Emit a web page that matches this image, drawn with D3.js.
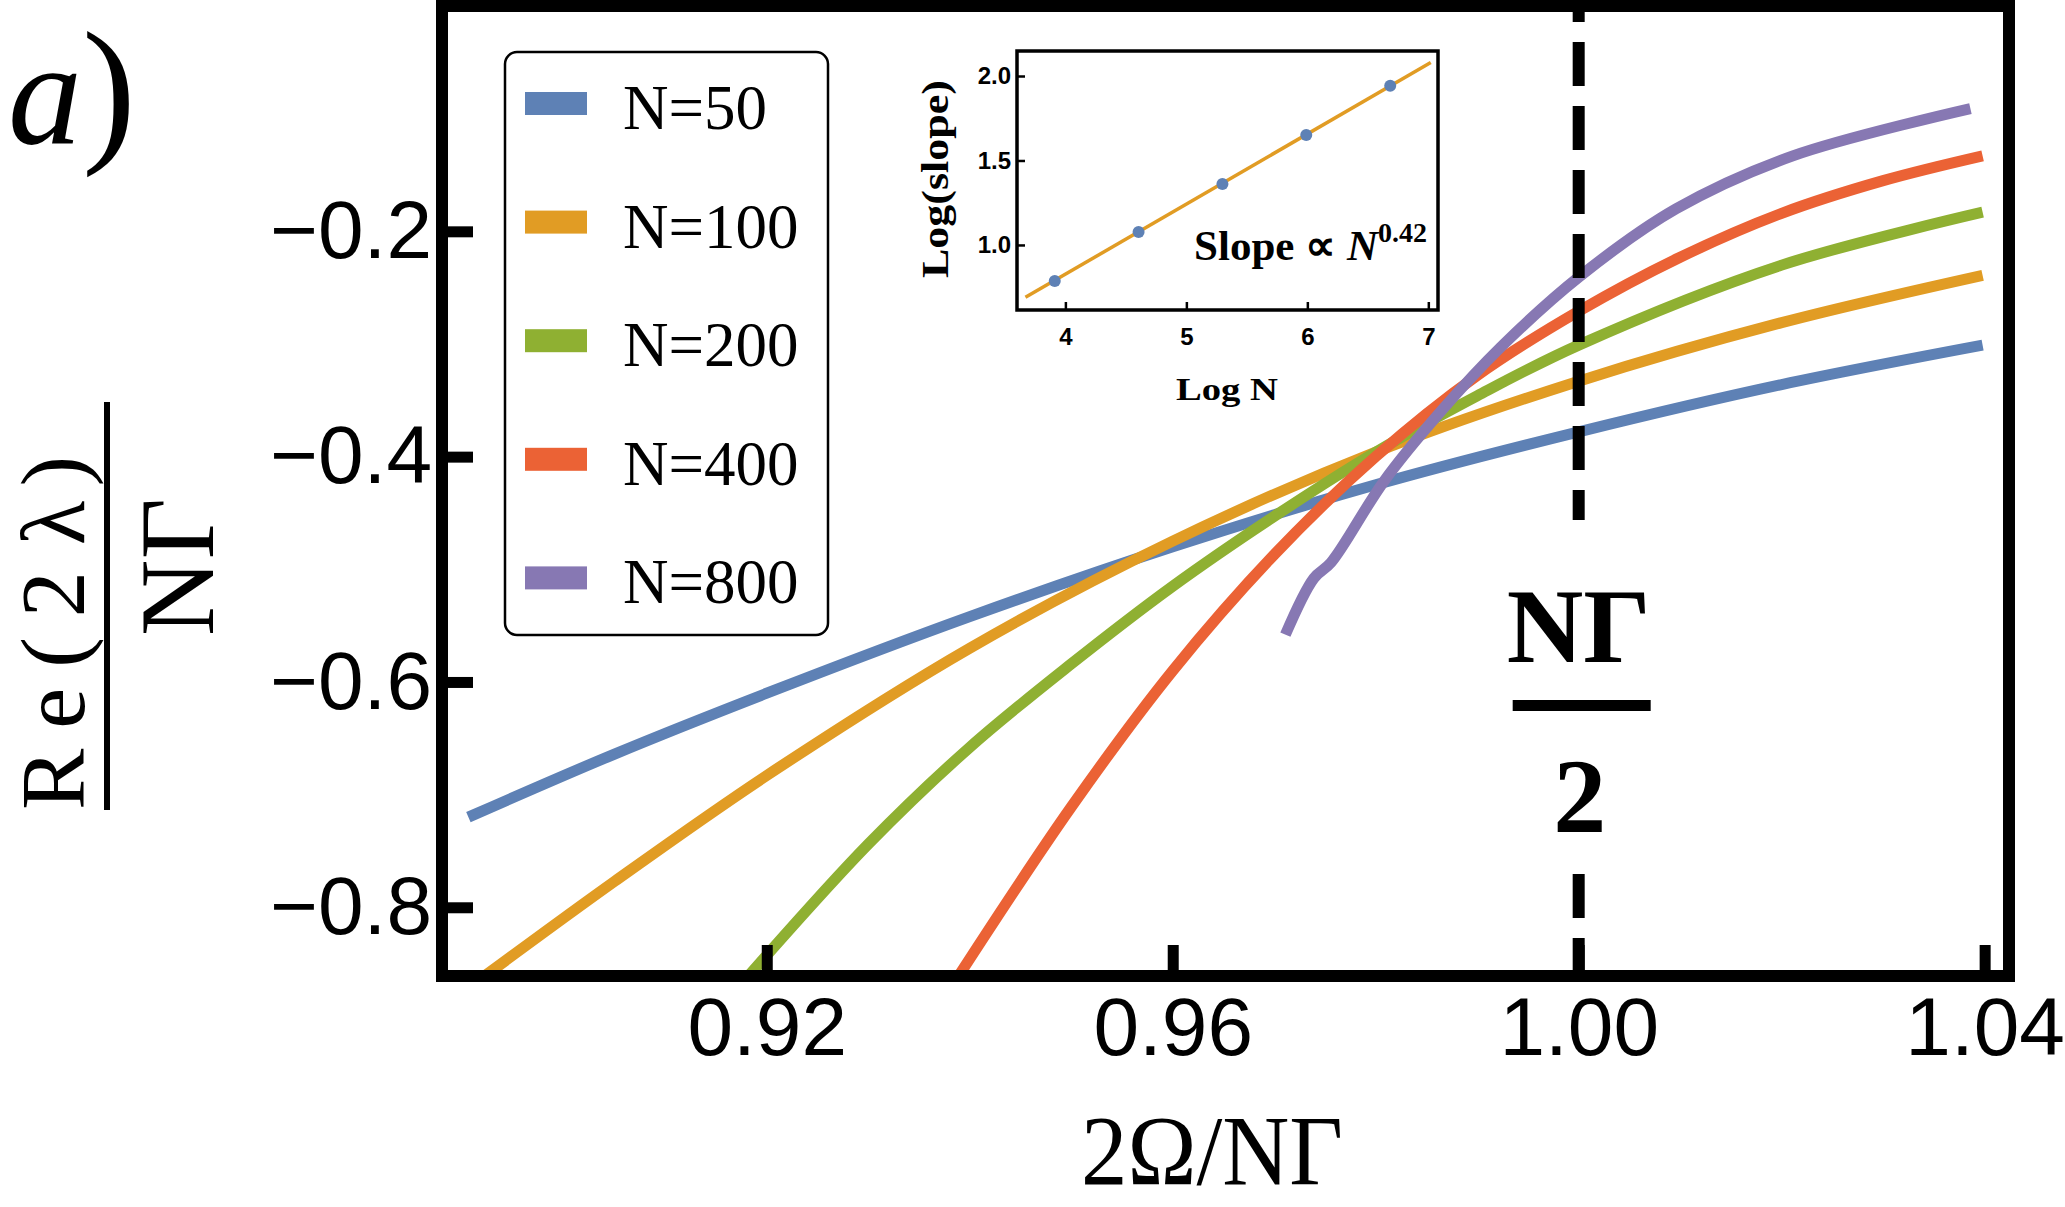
<!DOCTYPE html>
<html>
<head>
<meta charset="utf-8">
<script src="https://cdn.jsdelivr.net/npm/d3@7"></script>
<style>
  html, body { margin: 0; padding: 0; background: #fff; }
  svg { display: block; }
</style>
</head>
<body>
<svg id="chart" width="2065" height="1207"></svg>
<script>
// Main panel: Re(2 lambda)/N Gamma against 2 Omega/N Gamma, one curve per N.
let seriesNames = ["N=50", "N=100", "N=200", "N=400", "N=800"];
let seriesColours = ["#5E81B5", "#E19C24", "#8FB032", "#EB6235", "#8778B3"];

let x50 = [0.8906, 0.905, 0.92, 0.94, 0.96, 0.98, 1.00, 1.02, 1.0398];
let y50 = [-0.720, -0.664, -0.610, -0.542, -0.480, -0.425, -0.378, -0.336, -0.301];

let x100 = [0.8922, 0.905, 0.92, 0.94, 0.96, 0.98, 1.00, 1.02, 1.0398];
let y100 = [-0.861, -0.777, -0.683, -0.570, -0.475, -0.396, -0.333, -0.281, -0.239];

let x200 = [0.9182, 0.93, 0.94, 0.95, 0.96, 0.97, 0.98, 0.99, 1.00, 1.02, 1.0398];
let y200 = [-0.861, -0.744, -0.658, -0.584, -0.515, -0.453, -0.396, -0.346, -0.301, -0.230, -0.183];

let x400 = [0.9389, 0.95, 0.96, 0.97, 0.98, 0.99, 1.00, 1.01, 1.02, 1.03, 1.0398];
let y400 = [-0.861, -0.711, -0.590, -0.487, -0.400, -0.328, -0.271, -0.223, -0.184, -0.155, -0.133];

let x800 = [0.9711, 0.9739, 0.9756, 0.9808, 0.9865, 0.9923, 1.0001, 1.0096, 1.0211, 1.0386];
let y800 = [-0.558, -0.508, -0.494, -0.422, -0.359, -0.303, -0.240, -0.180, -0.133, -0.091];

let xTicks = [0.92, 0.96, 1.00, 1.04];
let yTicks = [-0.2, -0.4, -0.6, -0.8];
let markerX = 1.00;

// Inset: log of the slope against log N, with the fitted line.
let logN = [3.912, 4.605, 5.298, 5.991, 6.685];
let logSlope = [0.787, 1.077, 1.361, 1.651, 1.943];
let fitX = [3.67, 7.02];
let fitY = [0.69, 2.08];
let insetXTicks = [4, 5, 6, 7];
let insetYTicks = [1.0, 1.5, 2.0];

let allX = [x50, x100, x200, x400, x800];
let allY = [y50, y100, y200, y400, y800];

let svg = d3.select("#chart");

// Frame of the main panel.
let plotLeft = 442, plotRight = 2009, plotTop = 6, plotBottom = 976;

let x = d3.scaleLinear().domain([0.888, 1.0424]).range([plotLeft, plotRight]);
let y = d3.scaleLinear().domain([-0.861, 0.0]).range([plotBottom, plotTop]);

// Clip the curves just outside the frame.
svg.append("clipPath")
    .attr("id", "plotClip")
    .append("rect")
    .attr("x", plotLeft - 6)
    .attr("y", 0)
    .attr("width", plotRight - plotLeft + 12)
    .attr("height", plotBottom - plotTop + 16);

let line = d3.line()
    .x(d => x(d[0]))
    .y(d => y(d[1]))
    .curve(d3.curveCatmullRom.alpha(0.5));

let curves = svg.append("g").attr("clip-path", "url(#plotClip)");

allX.forEach(function(xs, i) {
    let pts = xs.map((v, j) => [v, allY[i][j]]);
    curves.append("path")
        .datum(pts)
        .attr("d", line)
        .attr("fill", "none")
        .attr("stroke", seriesColours[i])
        .attr("stroke-width", 11)
        .attr("stroke-linecap", "butt")
        .attr("stroke-linejoin", "round");
});

// Dashed marker at 2 Omega = N Gamma, dashes counted up from the bottom.
svg.append("line")
    .attr("x1", x(markerX))
    .attr("x2", x(markerX))
    .attr("y1", plotBottom + 6)
    .attr("y2", plotTop + 6)
    .attr("stroke", "#000")
    .attr("stroke-width", 12)
    .attr("stroke-dasharray", "44,20");

// N Gamma / 2 label, with a white backing that hides the dashes.
let frac = svg.append("g");
frac.append("rect")
    .attr("x", x(markerX) - 80)
    .attr("y", 520)
    .attr("width", 160)
    .attr("height", 336)
    .attr("fill", "#fff");
frac.append("text")
    .attr("x", x(markerX))
    .attr("y", 662)
    .attr("text-anchor", "middle")
    .style("font", "bold 106px 'Liberation Serif'")
    .text("NΓ");
frac.append("line")
    .attr("x1", x(markerX) - 66)
    .attr("x2", x(markerX) + 72)
    .attr("y1", 705.5)
    .attr("y2", 705.5)
    .attr("stroke", "#000")
    .attr("stroke-width", 11);
frac.append("text")
    .attr("x", x(markerX) + 1)
    .attr("y", 832)
    .attr("text-anchor", "middle")
    .style("font", "bold 106px 'Liberation Serif'")
    .text("2");

// Axes with inward ticks.
let xAxis = svg.append("g")
    .attr("transform", `translate(0,${plotBottom})`)
    .call(d3.axisBottom(x)
        .tickValues(xTicks)
        .tickSize(-31)
        .tickPadding(21)
        .tickFormat(d3.format(".2f")));

let yAxis = svg.append("g")
    .attr("transform", `translate(${plotLeft},0)`)
    .call(d3.axisLeft(y)
        .tickValues(yTicks)
        .tickSize(-31)
        .tickPadding(10)
        .tickFormat(d3.format(".1f")));

[xAxis, yAxis].forEach(function(ax) {
    ax.select(".domain").remove();
    ax.selectAll(".tick line")
        .attr("stroke", "#000")
        .attr("stroke-width", 11);
    ax.selectAll(".tick text")
        .attr("fill", "#000")
        .style("font", "82px 'Liberation Sans'");
});

svg.append("rect")
    .attr("x", plotLeft)
    .attr("y", plotTop)
    .attr("width", plotRight - plotLeft)
    .attr("height", plotBottom - plotTop)
    .attr("fill", "none")
    .attr("stroke", "#000")
    .attr("stroke-width", 12);

// Legend.
let legend = svg.append("g");
legend.append("rect")
    .attr("x", 505)
    .attr("y", 52)
    .attr("width", 323)
    .attr("height", 583)
    .attr("rx", 12)
    .attr("fill", "#fff")
    .attr("stroke", "#000")
    .attr("stroke-width", 2.5);

seriesNames.forEach(function(name, i) {
    let cy = 103.5 + i * 118.6;
    legend.append("rect")
        .attr("x", 525)
        .attr("y", cy - 11.5)
        .attr("width", 62)
        .attr("height", 23)
        .attr("fill", seriesColours[i]);
    legend.append("text")
        .attr("x", 623)
        .attr("y", cy + 25.5)
        .style("font", "63px 'Liberation Serif'")
        .text(name);
});

// Axis titles.
svg.append("text")
    .attr("x", 1212)
    .attr("y", 1184)
    .attr("text-anchor", "middle")
    .attr("textLength", 262)
    .attr("lengthAdjust", "spacingAndGlyphs")
    .style("font", "100px 'Liberation Serif'")
    .text("2Ω/NΓ");

let yTitle = svg.append("text")
    .attr("transform", "translate(84,810) rotate(-90)")
    .style("font", "92px 'Liberation Serif'");
yTitle.append("tspan").text("R");
yTitle.append("tspan").attr("dx", 20).text("e");
yTitle.append("tspan").attr("dx", 20).text("(");
yTitle.append("tspan").attr("dx", 20).text("2");
yTitle.append("tspan").attr("dx", 26).text("λ");
yTitle.append("tspan").attr("dx", 14).text(")");

svg.append("line")
    .attr("x1", 107)
    .attr("x2", 107)
    .attr("y1", 402)
    .attr("y2", 810)
    .attr("stroke", "#000")
    .attr("stroke-width", 6);

svg.append("text")
    .attr("transform", "translate(213,567) rotate(-90)")
    .attr("text-anchor", "middle")
    .style("font", "106px 'Liberation Serif'")
    .text("NΓ");

// Panel tag.
let tag = svg.append("text")
    .attr("x", 8)
    .attr("y", 143);
tag.append("tspan")
    .style("font", "italic 148px 'Liberation Serif'")
    .text("a");
tag.append("tspan")
    .style("font", "162px 'Liberation Serif'")
    .text(")");

// Inset.
let ix = d3.scaleLinear().domain([3.6, 7.08]).range([1017, 1438]);
let iy = d3.scaleLinear().domain([0.615, 2.148]).range([310, 51]);

let inset = svg.append("g");
inset.append("rect")
    .attr("x", 1017)
    .attr("y", 51)
    .attr("width", 421)
    .attr("height", 259)
    .attr("fill", "#fff");

inset.append("line")
    .attr("x1", ix(fitX[0]))
    .attr("y1", iy(fitY[0]))
    .attr("x2", ix(fitX[1]))
    .attr("y2", iy(fitY[1]))
    .attr("stroke", seriesColours[1])
    .attr("stroke-width", 3.5);

inset.selectAll("circle")
    .data(logN)
    .enter()
    .append("circle")
    .attr("cx", d => ix(d))
    .attr("cy", (d, i) => iy(logSlope[i]))
    .attr("r", 6)
    .attr("fill", seriesColours[0]);

let ixAxis = inset.append("g")
    .attr("transform", "translate(0,310)")
    .call(d3.axisBottom(ix)
        .tickValues(insetXTicks)
        .tickSize(-8)
        .tickPadding(18)
        .tickFormat(d3.format("d")));

let iyAxis = inset.append("g")
    .attr("transform", "translate(1017,0)")
    .call(d3.axisLeft(iy)
        .tickValues(insetYTicks)
        .tickSize(-8)
        .tickPadding(6)
        .tickFormat(d3.format(".1f")));

[ixAxis, iyAxis].forEach(function(ax) {
    ax.select(".domain").remove();
    ax.selectAll(".tick line")
        .attr("stroke", "#000")
        .attr("stroke-width", 2.5);
    ax.selectAll(".tick text")
        .attr("fill", "#000")
        .style("font", "bold 24px 'Liberation Sans'");
});

inset.append("rect")
    .attr("x", 1017)
    .attr("y", 51)
    .attr("width", 421)
    .attr("height", 259)
    .attr("fill", "none")
    .attr("stroke", "#000")
    .attr("stroke-width", 3.5);

inset.append("text")
    .attr("transform", "translate(948,179) rotate(-90)")
    .attr("text-anchor", "middle")
    .attr("textLength", 198)
    .attr("lengthAdjust", "spacingAndGlyphs")
    .style("font", "bold 38px 'Liberation Serif'")
    .text("Log(slope)");

inset.append("text")
    .attr("x", 1227)
    .attr("y", 400)
    .attr("text-anchor", "middle")
    .attr("textLength", 102)
    .attr("lengthAdjust", "spacingAndGlyphs")
    .style("font", "bold 32px 'Liberation Serif'")
    .text("Log N");

let slopeNote = inset.append("text")
    .attr("x", 1427)
    .attr("y", 260)
    .attr("text-anchor", "end")
    .style("font", "bold 43px 'Liberation Serif'");
slopeNote.append("tspan").text("Slope ∝ ");
slopeNote.append("tspan").style("font-style", "italic").text("N");
slopeNote.append("tspan")
    .attr("dy", -18)
    .style("font-size", "28px")
    .text("0.42");
</script>
</body>
</html>
